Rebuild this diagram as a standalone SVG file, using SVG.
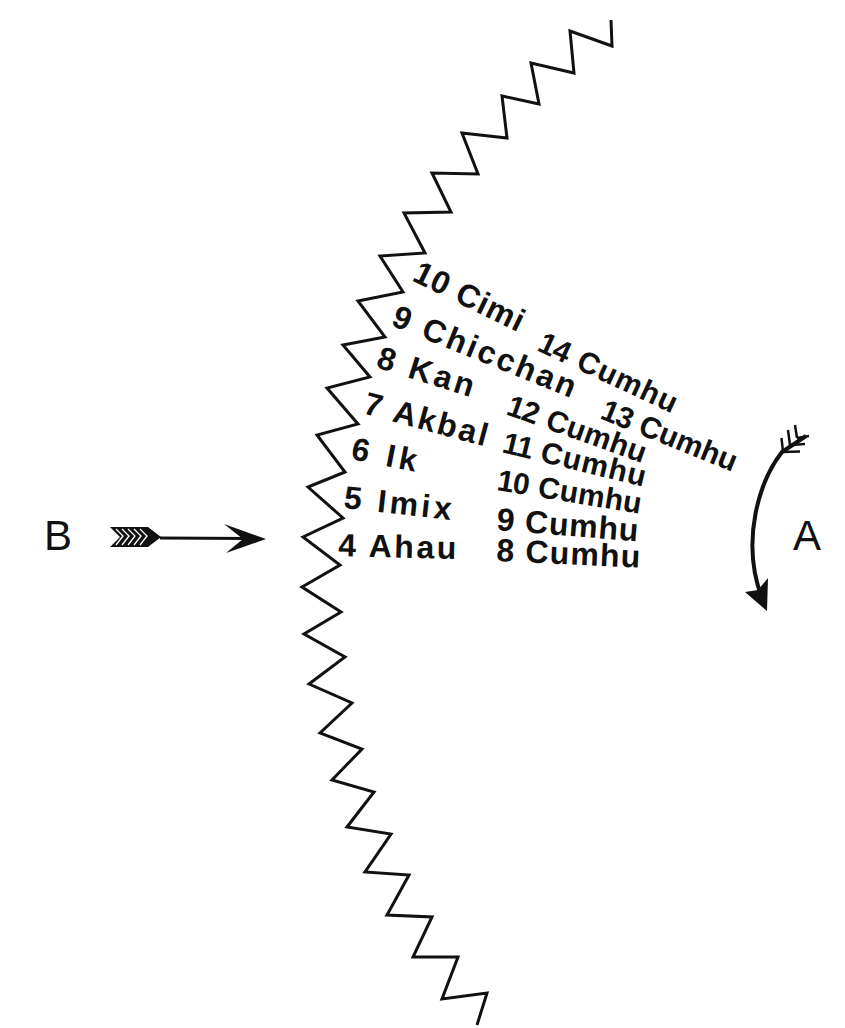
<svg xmlns="http://www.w3.org/2000/svg" width="845" height="1028" viewBox="0 0 845 1028">
<style>
.lbl{font-family:"Liberation Sans",Arial,sans-serif;font-weight:bold;font-size:32px;letter-spacing:2px;fill:#111}
.cu{font-size:30px}
.one{letter-spacing:-1px}
.big{font-family:"Liberation Sans",Arial,sans-serif;font-size:42px;fill:#111}
.ln{fill:none;stroke:#111;stroke-width:3;stroke-linejoin:miter;stroke-linecap:butt}
</style>
<rect width="845" height="1028" fill="#fff"/>
<g id="zigzag">
<polyline class="ln" points="611,20 612,46 570,31 574,73 531,63 539,104 502,96 507,138 462,133 478,174 432,173 451,212 404,213 425,253 380,256 403,292 358,301 385,337 343,345 370,377 327,388 358,424 317,435 345,472 308,487 343,518 303,537 340,565 302,587 341,612 304,634 345,657 309,684 352,703 320,733 362,749 332,780 374,792 347,827 391,834 365,872 409,875 387,915 432,917 413,957 458,957 442,999 487,993 477,1025"/>
</g>
<g id="labels">
<g id="l-10cimi"><text class="lbl" transform="translate(411,280) rotate(26)" textLength="121" lengthAdjust="spacing">10 Cimi</text></g>
<g id="l-14cumhu"><text class="lbl cu" style="letter-spacing:1px" transform="translate(536,350) rotate(25)"><tspan class="one">1</tspan>4 Cumhu</text></g>
<g id="l-9chicchan"><text class="lbl" transform="translate(390,325) rotate(22)" textLength="197" lengthAdjust="spacing">9 Chicchan</text></g>
<g id="l-13cumhu"><text class="lbl cu" style="letter-spacing:0px" transform="translate(599,418) rotate(22)"><tspan class="one">1</tspan>3 Cumhu</text></g>
<g id="l-8kan"><text class="lbl" transform="translate(375,367) rotate(17.5)" textLength="102" lengthAdjust="spacing">8 Kan</text></g>
<g id="l-12cumhu"><text class="lbl cu" style="letter-spacing:0.3px" transform="translate(505,414) rotate(19.7)"><tspan class="one">1</tspan>2 Cumhu</text></g>
<g id="l-7akbal"><text class="lbl" transform="translate(362,413) rotate(15.2)" textLength="129" lengthAdjust="spacing">7 Akbal</text></g>
<g id="l-11cumhu"><text class="lbl cu" style="letter-spacing:1px" transform="translate(501,452) rotate(13.7)"><tspan class="one">11</tspan> Cumhu</text></g>
<g id="l-6ik"><text class="lbl" transform="translate(350,459) rotate(11)" textLength="68" lengthAdjust="spacing">6 Ik</text></g>
<g id="l-10cumhu"><text class="lbl cu" style="letter-spacing:0.3px" transform="translate(496,490) rotate(9.4)"><tspan class="one">1</tspan>0 Cumhu</text></g>
<g id="l-5imix"><text class="lbl" transform="translate(343,508) rotate(6.3)" textLength="110" lengthAdjust="spacing">5 Imix</text></g>
<g id="l-9cumhu"><text class="lbl" transform="translate(496,530) rotate(4.6)" textLength="144" lengthAdjust="spacing">9 Cumhu</text></g>
<g id="l-4ahau"><text class="lbl" transform="translate(338,556) rotate(1.5)" textLength="120" lengthAdjust="spacing">4 Ahau</text></g>
<g id="l-8cumhu"><text class="lbl" transform="translate(496,561) rotate(2.7)" textLength="146" lengthAdjust="spacing">8 Cumhu</text></g>
</g>
<g id="node-B"><text class="big" x="44" y="550">B</text></g>
<g id="node-A"><text class="big" x="793" y="550">A</text></g>
<g id="connectors">
<g id="arrow-B">
<line x1="160" y1="538" x2="250" y2="538.5" stroke="#111" stroke-width="3"/>
<path d="M266,539 L224,524 L243,539 L226,553 Z" fill="#111"/>
<path d="M110,527 L148,527 L161,537 L148,547 L110,547 L120,537 Z" fill="#111"/>
<g stroke="#fff" stroke-width="1.3" fill="none">
<path d="M116,529 L123,536 L116,545"/>
<path d="M122,529 L129,536 L122,545"/>
<path d="M128,529 L135,536 L128,545"/>
<path d="M134,529 L141,536 L134,545"/>
<path d="M140,529 L147,536 L140,545"/>
</g>
</g>
<g id="arrow-A" stroke="#111" fill="none">
<path d="M806,436 L782,452 C760,480 740,540 762,598" stroke-width="4"/>
<path d="M783,452 L781.5,438 M783,452 L800,451.5 M790,445 L788,430 M790,445 L805,444 M797,438 L795,425 M797,438 L809,436" stroke-width="2.5"/>
<path d="M767,611 L745,592 L758,590 L768,578 Z" fill="#111" stroke="none"/>
</g>
</g>
</svg>
